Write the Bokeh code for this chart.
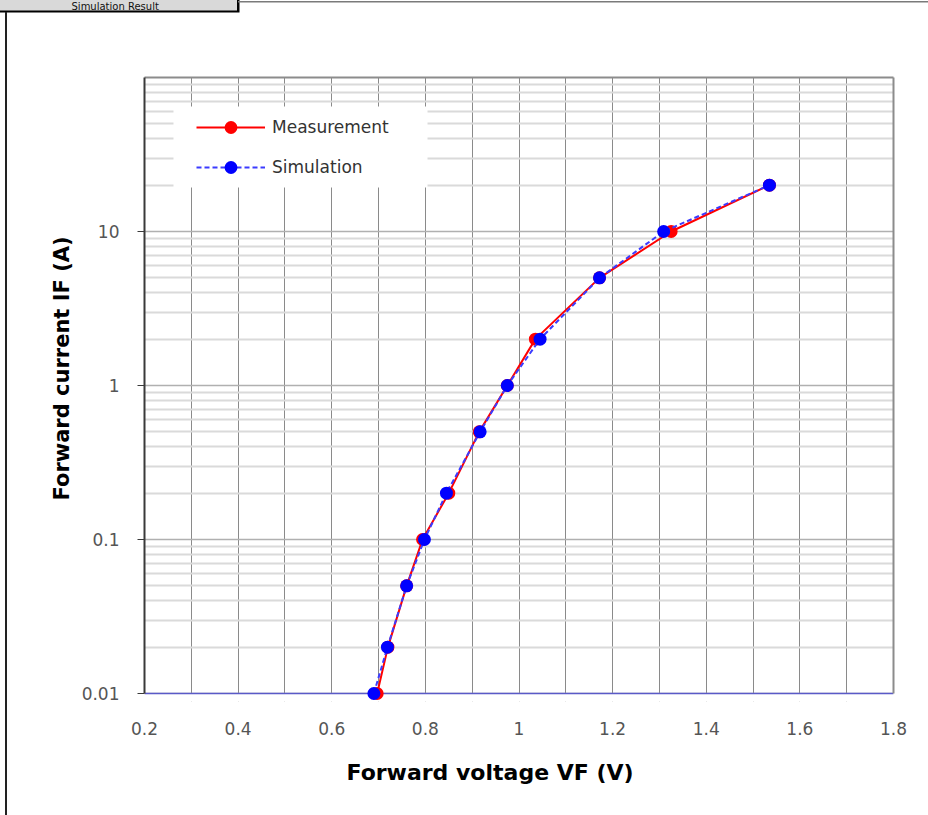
from bokeh.plotting import figure
from bokeh.models import (FixedTicker, LinearAxis, Title, Legend, LegendItem,
                          BoxAnnotation, Span, Range1d, CustomJSTickFormatter)
from bokeh.embed import file_html
from bokeh.resources import INLINE

# ---- data ----
forward_current = [0.01, 0.02, 0.05, 0.1, 0.2, 0.5, 1, 2, 5, 10, 20]
vf_measurement = [0.697, 0.72, 0.76, 0.794, 0.85, 0.915, 0.975, 1.035, 1.172, 1.325, 1.535]
vf_simulation = [0.69, 0.719, 0.76, 0.798, 0.845, 0.917, 0.975, 1.045, 1.172, 1.309, 1.535]

x_label_ticks = [0.2, 0.4, 0.6, 0.8, 1.0, 1.2, 1.4, 1.6, 1.8]
x_grid_ticks = [round(0.2 + 0.1 * i, 1) for i in range(17)]
y_label_ticks = [0.01, 0.1, 1, 10]
y_grid_major = [0.01, 0.1, 1, 10, 100]
y_grid_minor = [k * 10.0 ** e for e in range(-2, 2) for k in range(2, 10)]

series_names = ["Measurement", "Simulation"]
chart_title = "Simulation Result"

FONT = "DejaVu Sans"

# ---- layout (canvas pixels) ----
W, H = 928, 815
FL, FR, FT, FB = 144, 893, 76, 701      # frame edges
Y_BASE_PX = 693                          # where 0.01 sits
X0, X1 = 0.2, 1.8
DECADE_PX = 154.0
y_start = 10 ** (-2 - (FB - Y_BASE_PX) / DECADE_PX)
XS = (FR - FL) / (X1 - X0)


def px_x(px):
    return X0 + (px - FL) / XS


def px_y(py):
    return 10 ** ((Y_BASE_PX - py) / DECADE_PX - 2)


# chart-area border lines and the title tab, painted behind the (transparent) canvas border
page_styles = {
    "background-image": ("linear-gradient(#222222,#222222), linear-gradient(#7a7a7a,#7a7a7a), "
                         "linear-gradient(#d9d9d9,#d9d9d9), linear-gradient(#000000,#000000)"),
    "background-position": "4.5px 12px, 238px 1px, 0px 0px, 0px 0px",
    "background-size": "2px 803px, 690px 1.5px, 237px 10.5px, 239.5px 12.5px",
    "background-repeat": "no-repeat",
}

p = figure(width=W, height=H, title=None,
           x_range=Range1d(X0, X1), y_range=Range1d(y_start, 100),
           y_axis_type="log", output_backend="svg", toolbar_location=None,
           min_border_left=FL, min_border_right=W - FR,
           min_border_top=FT, min_border_bottom=H - FB,
           background_fill_color="white", border_fill_alpha=0,
           styles=page_styles)
p.outline_line_color = None

# grids
p.xgrid.ticker = FixedTicker(ticks=x_grid_ticks)
p.xgrid.grid_line_color = "#8a8a8a"
p.xgrid.grid_line_width = 1
p.ygrid.ticker = FixedTicker(ticks=y_grid_major, minor_ticks=y_grid_minor)
p.ygrid.grid_line_color = "#b0b0b0"
p.ygrid.grid_line_width = 1.5
p.ygrid.minor_grid_line_color = "#dadada"
p.ygrid.minor_grid_line_width = 2

# x axis
xa = p.xaxis[0]
xa.ticker = FixedTicker(ticks=x_label_ticks)
xa.formatter = CustomJSTickFormatter(code="return String(Math.round(tick*10)/10);")
xa.axis_line_color = None
xa.major_tick_line_color = None
xa.minor_tick_line_color = None
xa.major_label_standoff = 14
xa.major_label_text_font = FONT
xa.major_label_text_font_size = "17px"
xa.major_label_text_color = "#555555"

# y axis
ya = p.yaxis[0]
ya.ticker = FixedTicker(ticks=y_label_ticks)
ya.formatter = CustomJSTickFormatter(code="return String(tick);")
ya.bounds = (0.01, 100)
ya.axis_line_color = "#3a3a3a"
ya.axis_line_width = 2
ya.major_tick_line_color = "#3a3a3a"
ya.major_tick_out = 7
ya.major_tick_in = 0
ya.minor_tick_line_color = None
ya.major_label_standoff = 18
ya.major_label_text_font = FONT
ya.major_label_text_font_size = "17px"
ya.major_label_text_color = "#555555"

# right and top frame edges (tick-less axes)
p.add_layout(LinearAxis(ticker=FixedTicker(ticks=[]), bounds=(0.01, 100),
                        axis_line_color="#8c8c8c", axis_line_width=2,
                        major_label_text_font_size="0px"), "right")
p.add_layout(LinearAxis(ticker=FixedTicker(ticks=[]),
                        axis_line_color="#8c8c8c", axis_line_width=2,
                        major_tick_line_color=None, minor_tick_line_color=None,
                        major_label_text_font_size="0px"), "above")
# spacer, then the chart title inside the tab at the top-left corner
p.add_layout(Title(text=" ", standoff=51, text_font=FONT, text_font_size="10px"), "above")
p.add_layout(Title(text=chart_title, align="left", offset=71 - FL,
                   vertical_align="top", standoff=0,
                   text_font=FONT, text_font_size="10px", text_font_style="normal",
                   text_color="#111111"), "above")

# white area below 0.01 and the blue baseline
p.add_layout(BoxAnnotation(top=0.01, fill_color="white", fill_alpha=1,
                           line_color=None, level="underlay"))
p.add_layout(Span(location=0.01, dimension="width", line_color="#5a5ac8",
                  line_width=1.5, level="underlay"))
# white legend area
p.add_layout(BoxAnnotation(left=px_x(173), right=px_x(427), bottom=px_y(187), top=px_y(106),
                           fill_color="white", fill_alpha=1, line_color=None,
                           level="underlay"))

# series
r_line = p.line(vf_measurement, forward_current, line_color="#ff0000", line_width=2)
r_pts = p.scatter(vf_measurement, forward_current, marker="circle", size=13,
                  fill_color="#ff0000", line_color=None)
b_line = p.line(vf_simulation, forward_current, line_color="#3b3bff", line_width=2,
                line_dash="5 3")
b_pts = p.scatter(vf_simulation, forward_current, marker="circle", size=13,
                  fill_color="#0000ff", line_color=None)

legend = Legend(items=[LegendItem(label=series_names[0], renderers=[r_line, r_pts]),
                       LegendItem(label=series_names[1], renderers=[b_line, b_pts])],
                location=(52, FB - 183), padding=0, spacing=8, margin=0,
                glyph_width=69, glyph_height=32, label_height=32, label_standoff=7,
                label_text_font=FONT, label_text_font_size="17px",
                label_text_color="#333333",
                background_fill_color="white", background_fill_alpha=1,
                border_line_color=None)
p.add_layout(legend)

# axis titles
p.add_layout(Title(text="Forward voltage VF (V)", align="left", offset=202,
                   text_font=FONT, text_font_size="22px", text_font_style="bold",
                   text_color="#000000", standoff=40), "below")
p.add_layout(Title(text="Forward current IF (A)", align="left", offset=201,
                   text_font=FONT, text_font_size="21px", text_font_style="bold",
                   text_color="#000000", standoff=10), "left")

open("out.html", "w").write(file_html(p, INLINE))
